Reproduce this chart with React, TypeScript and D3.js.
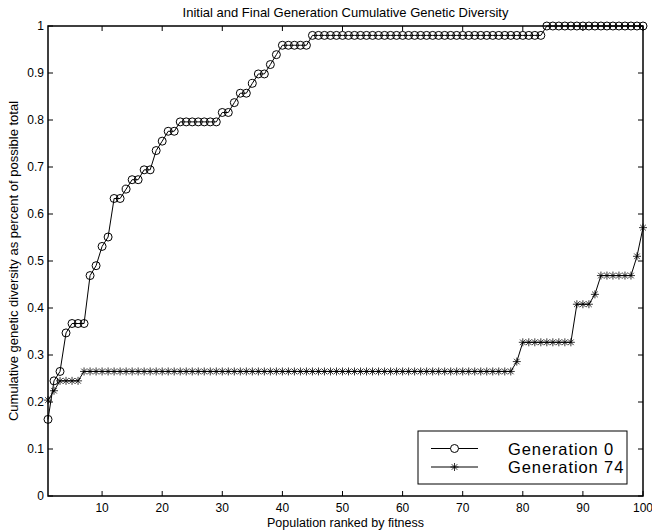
import React from "react";
import * as d3 from "d3";

// Cumulative genetic diversity (population rank 1..100)
const generation0 = [
  0.163, 0.245, 0.265, 0.347, 0.367, 0.367, 0.367, 0.469, 0.490, 0.531,
  0.551, 0.633, 0.633, 0.653, 0.673, 0.673, 0.694, 0.694, 0.735, 0.755,
  0.776, 0.776, 0.796, 0.796, 0.796, 0.796, 0.796, 0.796, 0.796, 0.816,
  0.816, 0.837, 0.857, 0.857, 0.878, 0.898, 0.898, 0.918, 0.939, 0.959,
  0.959, 0.959, 0.959, 0.959, 0.980, 0.980, 0.980, 0.980, 0.980, 0.980,
  0.980, 0.980, 0.980, 0.980, 0.980, 0.980, 0.980, 0.980, 0.980, 0.980,
  0.980, 0.980, 0.980, 0.980, 0.980, 0.980, 0.980, 0.980, 0.980, 0.980,
  0.980, 0.980, 0.980, 0.980, 0.980, 0.980, 0.980, 0.980, 0.980, 0.980,
  0.980, 0.980, 0.980, 1.000, 1.000, 1.000, 1.000, 1.000, 1.000, 1.000,
  1.000, 1.000, 1.000, 1.000, 1.000, 1.000, 1.000, 1.000, 1.000, 1.000,
];

const generation74 = [
  0.204, 0.224, 0.245, 0.245, 0.245, 0.245, 0.265, 0.265, 0.265, 0.265,
  0.265, 0.265, 0.265, 0.265, 0.265, 0.265, 0.265, 0.265, 0.265, 0.265,
  0.265, 0.265, 0.265, 0.265, 0.265, 0.265, 0.265, 0.265, 0.265, 0.265,
  0.265, 0.265, 0.265, 0.265, 0.265, 0.265, 0.265, 0.265, 0.265, 0.265,
  0.265, 0.265, 0.265, 0.265, 0.265, 0.265, 0.265, 0.265, 0.265, 0.265,
  0.265, 0.265, 0.265, 0.265, 0.265, 0.265, 0.265, 0.265, 0.265, 0.265,
  0.265, 0.265, 0.265, 0.265, 0.265, 0.265, 0.265, 0.265, 0.265, 0.265,
  0.265, 0.265, 0.265, 0.265, 0.265, 0.265, 0.265, 0.265, 0.286, 0.327,
  0.327, 0.327, 0.327, 0.327, 0.327, 0.327, 0.327, 0.327, 0.408, 0.408,
  0.408, 0.429, 0.469, 0.469, 0.469, 0.469, 0.469, 0.469, 0.510, 0.571,
];

const xTicks = [10, 20, 30, 40, 50, 60, 70, 80, 90, 100];
const yTicks = [0, 0.1, 0.2, 0.3, 0.4, 0.5, 0.6, 0.7, 0.8, 0.9, 1];
const legendLabels = ["Generation 0", "Generation 74"];

const FONT = "'Liberation Sans', Arial, Helvetica, sans-serif";
const W = 652;
const H = 531;
const margin = { top: 26, right: 9, bottom: 35, left: 48 };

const STAR = "M-4,0L4,0M0,-4L0,4M-2.8,-2.8L2.8,2.8M-2.8,2.8L2.8,-2.8";

export default function App() {
  const x = d3.scaleLinear().domain([1, 100]).range([margin.left, W - margin.right]);
  const y = d3.scaleLinear().domain([0, 1]).range([H - margin.bottom, margin.top]);
  const [x0, x1] = x.range();
  const [y0, y1] = y.range();

  const line = d3.line<number>()
    .x((_, i) => x(i + 1))
    .y((d) => y(d));

  const tickLen = 5;

  return (
    <svg width={W} height={H} style={{ position: "absolute", left: 0, top: 0, background: "#fff" }}>
      <rect x={0} y={0} width={W} height={H} fill="#fff" />

      {/* ── Ticks on all four sides (inward) ─────────────────────────── */}
      {xTicks.map((t) => (
        <g key={"xt" + t}>
          <line x1={x(t)} x2={x(t)} y1={y0} y2={y0 - tickLen} stroke="#000" />
          <line x1={x(t)} x2={x(t)} y1={y1} y2={y1 + tickLen} stroke="#000" />
          <text x={x(t)} y={y0 + 15.5} textAnchor="middle" fontSize={12} fontFamily={FONT}>
            {t}
          </text>
        </g>
      ))}
      {yTicks.map((t) => (
        <g key={"yt" + t}>
          <line x1={x0} x2={x0 + tickLen} y1={y(t)} y2={y(t)} stroke="#000" />
          <line x1={x1} x2={x1 - tickLen} y1={y(t)} y2={y(t)} stroke="#000" />
          <text x={x0 - 4} y={y(t) + 4} textAnchor="end" fontSize={12} fontFamily={FONT}>
            {t}
          </text>
        </g>
      ))}

      {/* ── Series ───────────────────────────────────────────────────── */}
      <path d={line(generation0) || ""} fill="none" stroke="#000" strokeWidth={1} />
      {generation0.map((v, i) => (
        <circle key={"c" + i} cx={x(i + 1)} cy={y(v)} r={4} fill="none" stroke="#000" strokeWidth={1} />
      ))}
      <path d={line(generation74) || ""} fill="none" stroke="#000" strokeWidth={1} />
      {generation74.map((v, i) => (
        <path key={"s" + i} d={STAR} transform={`translate(${x(i + 1)},${y(v)})`} stroke="#000" strokeWidth={0.8} fill="none" />
      ))}

      {/* ── Axes box ─────────────────────────────────────────────────── */}
      <rect x={x0} y={y1} width={x1 - x0} height={y0 - y1} fill="none" stroke="#000" strokeWidth={1.5} />

      {/* ── Labels ───────────────────────────────────────────────────── */}
      <text x={(x0 + x1) / 2} y={17} textAnchor="middle" fontSize={13} fontFamily={FONT}>
        Initial and Final Generation Cumulative Genetic Diversity
      </text>
      <text x={(x0 + x1) / 2} y={527} textAnchor="middle" fontSize={12.5} fontFamily={FONT}>
        Population ranked by fitness
      </text>
      <text
        transform={`translate(18,${(y0 + y1) / 2}) rotate(-90)`}
        textAnchor="middle"
        fontSize={13}
        fontFamily={FONT}
      >
        Cumulative genetic diversity as percent of possible total
      </text>

      {/* ── Legend ───────────────────────────────────────────────────── */}
      <g>
        <rect x={418} y={431} width={209} height={53} fill="#fff" stroke="#000" strokeWidth={1} />
        {legendLabels.map((label, i) => {
          const ly = 448.5 + i * 18.5;
          return (
            <g key={label}>
              <line x1={431} x2={478} y1={ly} y2={ly} stroke="#000" />
              {i === 0 ? (
                <circle cx={454.5} cy={ly} r={4} fill="#fff" stroke="#000" />
              ) : (
                <path d={STAR} transform={`translate(454.5,${ly})`} stroke="#000" strokeWidth={0.8} />
              )}
              <text x={508} y={ly + 6} fontSize={16.5} letterSpacing={0.9} fontFamily={FONT}>
                {label}
              </text>
            </g>
          );
        })}
      </g>
    </svg>
  );
}
